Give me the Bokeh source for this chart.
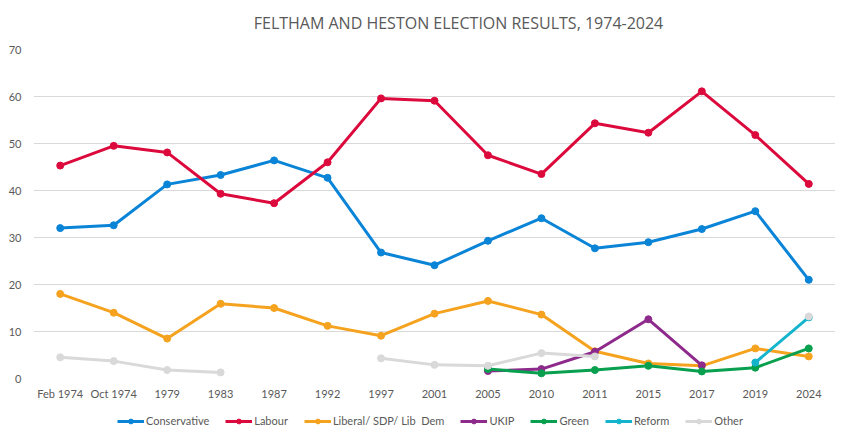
from bokeh.plotting import figure
from bokeh.models import Legend, LegendItem, Label, FactorRange, Range1d
from bokeh.layouts import column
from bokeh.embed import file_html
from bokeh.resources import INLINE
import numpy as np

nan = float("nan")

title_text = "FELTHAM AND HESTON ELECTION RESULTS, 1974-2024"

elections = ["Feb 1974", "Oct 1974", "1979", "1983", "1987", "1992", "1997", "2001",
             "2005", "2010", "2011", "2015", "2017", "2019", "2024"]

conservative = [32.0, 32.6, 41.3, 43.3, 46.4, 42.7, 26.8, 24.1, 29.3, 34.1, 27.7, 29.0, 31.8, 35.6, 21.0]
labour = [45.3, 49.5, 48.1, 39.3, 37.3, 46.0, 59.6, 59.1, 47.5, 43.5, 54.3, 52.3, 61.1, 51.8, 41.4]
libdem = [18.0, 14.0, 8.5, 15.9, 15.0, 11.2, 9.1, 13.8, 16.5, 13.6, 5.8, 3.2, 2.7, 6.4, 4.7]
ukip = [nan, nan, nan, nan, nan, nan, nan, nan, 1.6, 2.0, 5.7, 12.6, 2.8, nan, nan]
green = [nan, nan, nan, nan, nan, nan, nan, nan, 2.0, 1.1, 1.8, 2.7, 1.5, 2.3, 6.4]
reform = [nan, nan, nan, nan, nan, nan, nan, nan, nan, nan, nan, nan, nan, 3.4, 13.0]
other = [4.5, 3.7, 1.8, 1.3, nan, nan, 4.3, 2.9, 2.7, 5.4, 4.7, nan, nan, nan, 13.2]

series = [
    ("Conservative", conservative, "#0A84D6"),
    ("Labour", labour, "#DC0A3C"),
    ("Liberal/ SDP/ Lib  Dem", libdem, "#F5A21F"),
    ("UKIP", ukip, "#8E2A8C"),
    ("Green", green, "#08A04F"),
    ("Reform", reform, "#14B4CC"),
    ("Other", other, "#D9D9D9"),
]

TEXT = "#595959"

# title strip
tt = figure(width=835, height=41, x_range=Range1d(0, 1), y_range=Range1d(0, 1),
            output_backend="svg", toolbar_location=None,
            min_border_left=0, min_border_right=0, min_border_top=0, min_border_bottom=0)
tt.axis.visible = False
tt.grid.visible = False
tt.outline_line_color = None
tt.add_layout(Label(x=425, y=19, x_units="screen", y_units="screen", text=title_text,
                    text_align="center", text_baseline="middle", text_font="Open Sans",
                    text_font_size="16px", text_color=TEXT))

p = figure(width=835, height=361, x_range=FactorRange(*elections, range_padding=0),
           y_range=Range1d(0, 70), output_backend="svg", toolbar_location=None,
           min_border_left=33, min_border_right=0, min_border_top=8, min_border_bottom=0)

for name, vals, color in series:
    arr = np.array(vals, dtype=float)
    p.line(elections, arr, line_color=color, line_width=3)
    p.scatter(elections, arr, size=7, fill_color=color, line_color=color)

for ax in (p.xaxis, p.yaxis):
    ax.axis_line_color = None
    ax.major_tick_line_color = None
    ax.minor_tick_line_color = None
    ax.major_tick_out = 0
    ax.major_tick_in = 0
    ax.major_label_text_font = "Lato"
    ax.major_label_text_font_size = "11px"
    ax.major_label_text_color = TEXT
p.xaxis.major_label_standoff = 8
p.yaxis.major_label_standoff = 12
p.yaxis.ticker = [0, 10, 20, 30, 40, 50, 60, 70]
p.xgrid.grid_line_color = None
p.ygrid.grid_line_color = "#D9D9D9"
p.ygrid.grid_line_width = 1
p.outline_line_color = None

# legend strip
lg = figure(width=835, height=31, x_range=FactorRange(*elections, range_padding=0),
            y_range=Range1d(1000, 1001), output_backend="svg", toolbar_location=None,
            min_border_left=0, min_border_right=0, min_border_top=0, min_border_bottom=0)
lg.axis.visible = False
lg.grid.visible = False
lg.outline_line_color = None

items = []
for name, vals, color in series:
    arr = np.array(vals, dtype=float)
    r1 = lg.line(elections, arr, line_color=color, line_width=3)
    r2 = lg.scatter(elections, arr, size=7, fill_color=color, line_color=color)
    items.append(LegendItem(label=name, renderers=[r1, r2]))

legend = Legend(items=items, orientation="horizontal", location=(84, 6),
                label_text_font="Lato", label_text_font_size="11px", label_text_color=TEXT,
                glyph_width=27, glyph_height=12, label_standoff=2, spacing=16,
                padding=0, margin=0,
                border_line_color=None, background_fill_alpha=0)
lg.add_layout(legend, "center")

layout = column(tt, p, lg, spacing=0)
open("out.html", "w").write(file_html(layout, INLINE))
